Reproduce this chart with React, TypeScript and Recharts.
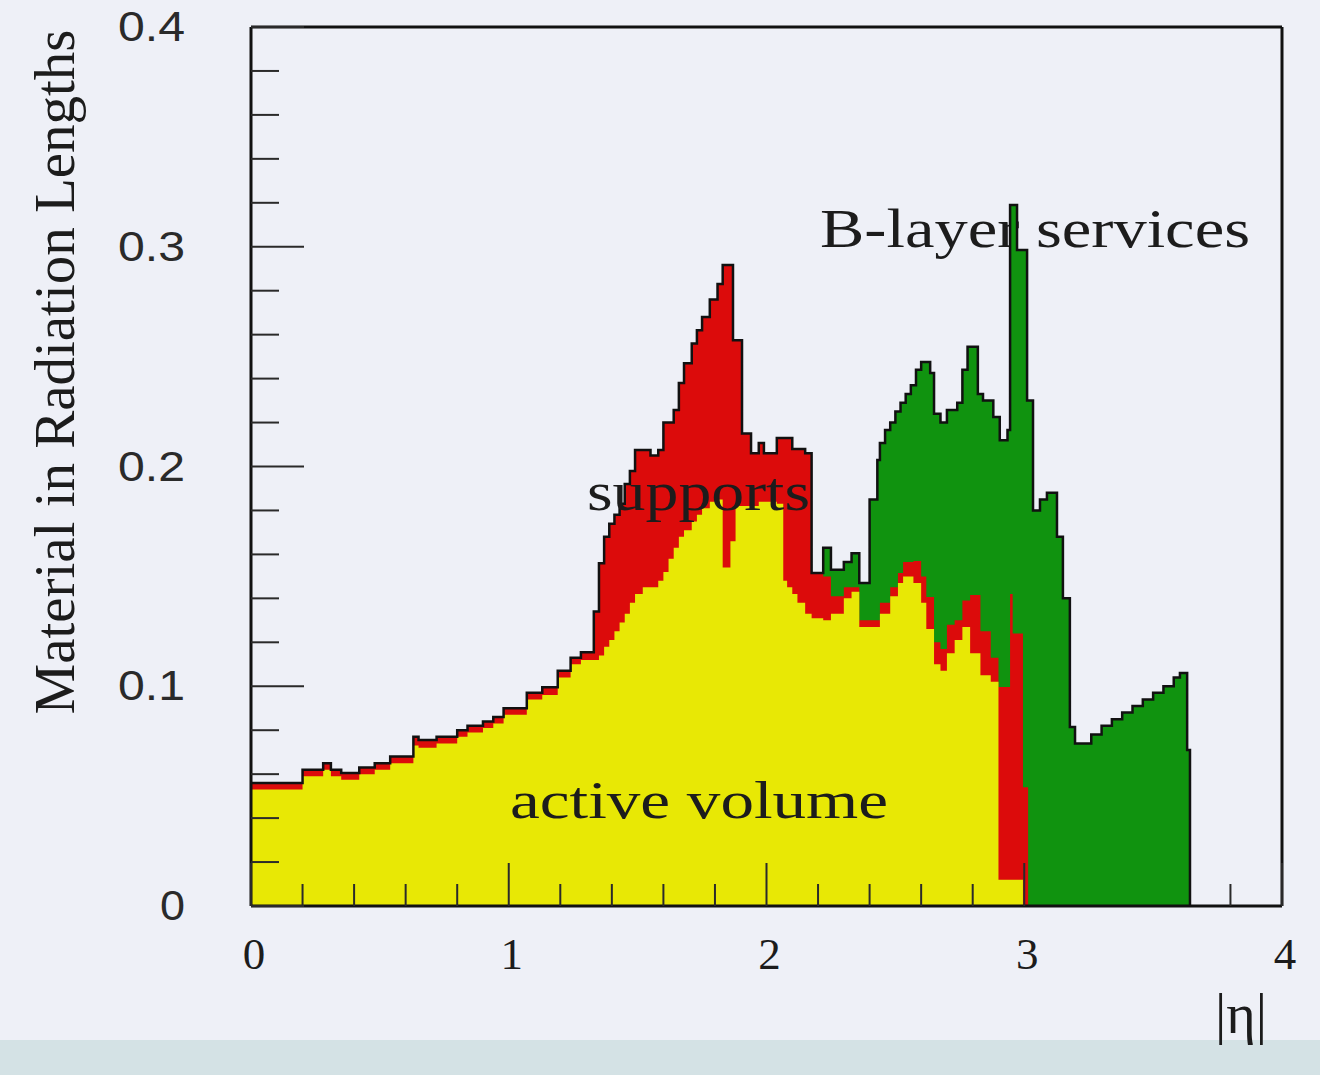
import { ComposedChart, Area, Line, XAxis, YAxis } from 'recharts';

// |eta| bin left edges; each value holds until the next edge
const eta = [
  0.0, 0.2, 0.28, 0.31, 0.35, 0.42, 0.48, 0.54, 0.63, 0.65,
  0.72, 0.8, 0.84, 0.9, 0.94, 0.98, 1.07, 1.13, 1.19, 1.24,
  1.28, 1.33, 1.35, 1.37, 1.39, 1.41, 1.43, 1.45, 1.47, 1.49,
  1.52, 1.55, 1.58, 1.6, 1.62, 1.64, 1.66, 1.68, 1.71, 1.73,
  1.75, 1.78, 1.81, 1.83, 1.86, 1.87, 1.88, 1.905, 1.94, 1.97,
  1.99, 2.04, 2.065, 2.08, 2.1, 2.12, 2.15, 2.175, 2.22, 2.25,
  2.3, 2.33, 2.36, 2.4, 2.43, 2.44, 2.46, 2.48, 2.5, 2.51,
  2.52, 2.53, 2.54, 2.56, 2.57, 2.58, 2.6, 2.62, 2.635, 2.65,
  2.675, 2.7, 2.73, 2.74, 2.76, 2.78, 2.79, 2.82, 2.83, 2.84,
  2.87, 2.88, 2.9, 2.905, 2.935, 2.945, 2.955, 2.972, 2.995, 3.011,
  3.015, 3.034, 3.061, 3.088, 3.127, 3.15, 3.177, 3.197, 3.26, 3.3,
  3.34, 3.38, 3.42, 3.46, 3.5, 3.54, 3.58, 3.604, 3.632, 3.643,
];

// cumulative material (X0): active volume only
const activeTop = [
  0.053, 0.059, 0.062, 0.059, 0.0575, 0.06, 0.062, 0.065, 0.073, 0.072,
  0.074, 0.077, 0.079, 0.081, 0.083, 0.087, 0.094, 0.096, 0.104, 0.11,
  0.112, 0.112, 0.114, 0.118, 0.121, 0.125, 0.129, 0.133, 0.138, 0.142,
  0.145, 0.145, 0.148, 0.152, 0.158, 0.163, 0.168, 0.171, 0.175, 0.178,
  0.181, 0.184, 0.185, 0.154, 0.166, 0.166, 0.182, 0.182, 0.182, 0.184,
  0.184, 0.183, 0.148, 0.145, 0.142, 0.138, 0.133, 0.131, 0.13, 0.133,
  0.14, 0.143, 0.127, 0.127, 0.127, 0.133, 0.133, 0.141, 0.141, 0.147,
  0.147, 0.15, 0.15, 0.15, 0.147, 0.147, 0.138, 0.126, 0.126, 0.11,
  0.107, 0.115, 0.121, 0.121, 0.127, 0.127, 0.115, 0.115, 0.105, 0.105,
  0.102, 0.102, 0.012, 0.012, 0.012, 0.012, 0.012, 0.012, 0, 0,
  0, 0, 0, 0, 0, 0, 0, 0, 0, 0,
  0, 0, 0, 0, 0, 0, 0, 0, 0, 0,
];

// cumulative: active volume + supports
const supportsTop = [
  0.056, 0.062, 0.065, 0.062, 0.0605, 0.063, 0.065, 0.068, 0.077, 0.0755,
  0.077, 0.08, 0.082, 0.084, 0.086, 0.09, 0.097, 0.0995, 0.107, 0.113,
  0.1155, 0.134, 0.156, 0.168, 0.174, 0.178, 0.183, 0.192, 0.198, 0.2075,
  0.2075, 0.205, 0.2075, 0.22, 0.22, 0.2257, 0.238, 0.247, 0.256, 0.262,
  0.268, 0.276, 0.283, 0.2917, 0.2917, 0.2575, 0.2575, 0.215, 0.206, 0.2107,
  0.206, 0.213, 0.213, 0.213, 0.208, 0.208, 0.206, 0.1515, 0.15, 0.141,
  0.145, 0.145, 0.13, 0.13, 0.13, 0.138, 0.138, 0.145, 0.145, 0.1515,
  0.1515, 0.1565, 0.1565, 0.1565, 0.157, 0.157, 0.15, 0.1406, 0.1406, 0.12,
  0.117, 0.128, 0.13, 0.13, 0.139, 0.139, 0.1415, 0.1415, 0.125, 0.125,
  0.113, 0.113, 0.0997, 0.0997, 0.0997, 0.142, 0.124, 0.124, 0.054, 0.054,
  0, 0, 0, 0, 0, 0, 0, 0, 0, 0,
  0, 0, 0, 0, 0, 0, 0, 0, 0, 0,
];

// cumulative: everything incl. B-layer services (no services below |eta| 2.2)
const servicesTop = [
  ...supportsTop.slice(0, 58),
  0.163, 0.153,
  0.1565, 0.1605, 0.147, 0.185, 0.203, 0.2107, 0.2166, 0.22, 0.225, 0.225,
  0.229, 0.229, 0.233, 0.237, 0.237, 0.244, 0.2476, 0.2476, 0.2425, 0.224,
  0.22, 0.2257, 0.2257, 0.229, 0.244, 0.2545, 0.2545, 0.233, 0.233, 0.23,
  0.23, 0.2225, 0.2225, 0.212, 0.2166, 0.319, 0.319, 0.2985, 0.2985, 0.23,
  0.23, 0.18, 0.185, 0.188, 0.168, 0.14, 0.0815, 0.074, 0.078, 0.082,
  0.085, 0.088, 0.091, 0.094, 0.097, 0.1, 0.104, 0.106, 0.071, 0,
];

const etaTicks = [0, 0.2, 0.4, 0.6, 0.8, 1, 1.2, 1.4, 1.6, 1.8, 2, 2.2, 2.4, 2.6, 2.8, 3, 3.8, 4];
const materialTicks = [
  0, 0.02, 0.04, 0.06, 0.08, 0.1, 0.12, 0.14, 0.16, 0.18, 0.2,
  0.22, 0.24, 0.26, 0.28, 0.3, 0.32, 0.34, 0.36, 0.38, 0.4,
];

const data = eta.map((x, i) => ({
  eta: x,
  active: activeTop[i],
  supports: supportsTop[i],
  services: servicesTop[i],
}));

const SERIF = '"Liberation Serif", "Times New Roman", serif';
const SANS = '"Liberation Sans", Arial, sans-serif';
const INK = '#1c1c1c';

function EtaTick({ x, y, payload }: any) {
  const v = payload.value;
  const major = Number.isInteger(v);
  return (
    <g>
      <line x1={x} x2={x} y1={y} y2={y - (major ? 43 : 22)} stroke="#2a2a2a" strokeWidth={2} />
      {major && (
        <text x={x + 3} y={y + 63} textAnchor="middle" fontFamily={SERIF} fontSize={45} fill={INK}>
          {v}
        </text>
      )}
    </g>
  );
}

function MaterialTick({ x, y, payload }: any) {
  const v = payload.value;
  const major = Math.abs(v * 10 - Math.round(v * 10)) < 1e-6;
  const label = v === 0 ? '0' : v.toFixed(1);
  return (
    <g>
      <line x1={x} x2={x + (major ? 53 : 28)} y1={y} y2={y} stroke="#2a2a2a" strokeWidth={2} />
      {major && (
        <text
          x={x - 66}
          y={y + 14}
          textAnchor="end"
          fontFamily={SANS}
          fontSize={42}
          fill="#2a2a2a"
          textLength={v === 0 ? 25 : 67}
          lengthAdjust="spacingAndGlyphs"
        >
          {label}
        </text>
      )}
    </g>
  );
}

export default function App() {
  const frame = { stroke: '#111', strokeWidth: 3 };
  return (
    <div style={{ position: 'absolute', left: 0, top: 0, width: 1320, height: 1075, background: '#eef0f7', overflow: 'hidden' }}>
      <div style={{ position: 'absolute', left: 0, top: 1040, width: 1320, height: 35, background: '#d4e2e5' }} />
      <svg width={1320} height={1075} style={{ position: 'absolute', left: 0, top: 0 }}>
        <text x={820} y={247} fontFamily={SERIF} fontSize={54} fill={INK} textLength={430} lengthAdjust="spacingAndGlyphs">
          B-layer services
        </text>
      </svg>
      <div style={{ position: 'absolute', left: 0, top: 0 }}>
        <ComposedChart width={1320} height={1075} data={data} margin={{ top: 26, right: 37, bottom: 168, left: 250 }}>
          <XAxis
            dataKey="eta"
            type="number"
            domain={[0, 4]}
            ticks={etaTicks}
            interval={0}
            height={1}
            tickSize={0}
            tickMargin={0}
            tickLine={false}
            tick={<EtaTick />}
            axisLine={frame}
          />
          <XAxis xAxisId="top" orientation="top" type="number" domain={[0, 4]} height={1} tick={false} tickLine={false} axisLine={frame} />
          <YAxis
            type="number"
            domain={[0, 0.4]}
            ticks={materialTicks}
            interval={0}
            width={1}
            tickSize={0}
            tickMargin={0}
            tickLine={false}
            tick={<MaterialTick />}
            axisLine={frame}
          />
          <YAxis yAxisId="right" orientation="right" type="number" domain={[0, 0.4]} width={1} tick={false} tickLine={false} axisLine={frame} />
          <Area type="stepAfter" dataKey="services" name="B-layer services" stroke="none" fill="#10930f" fillOpacity={1} isAnimationActive={false} />
          <Area type="stepAfter" dataKey="supports" name="supports" stroke="none" fill="#dc0b0b" fillOpacity={1} isAnimationActive={false} />
          <Area type="stepAfter" dataKey="active" name="active volume" stroke="none" fill="#e8e805" fillOpacity={1} isAnimationActive={false} />
          <Line type="stepAfter" dataKey="services" stroke="#111" strokeWidth={2.5} dot={false} activeDot={false} isAnimationActive={false} />
        </ComposedChart>
      </div>
      <svg width={1320} height={1075} style={{ position: 'absolute', left: 0, top: 0, pointerEvents: 'none' }}>
        <text x={587} y={510} fontFamily={SERIF} fontSize={54} fill={INK} textLength={223} lengthAdjust="spacingAndGlyphs">
          supports
        </text>
        <text x={510} y={818} fontFamily={SERIF} fontSize={52} fill={INK} textLength={378} lengthAdjust="spacingAndGlyphs">
          active volume
        </text>
        <text x={1215} y={1033} fontFamily={SERIF} fontSize={56} fill={INK} textLength={52} lengthAdjust="spacingAndGlyphs">
          |η|
        </text>
        <text
          transform="translate(74,372) rotate(-90)"
          textAnchor="middle"
          fontFamily={SERIF}
          fontSize={56}
          fill={INK}
          textLength={685}
          lengthAdjust="spacingAndGlyphs"
        >
          Material in Radiation Lengths
        </text>
      </svg>
    </div>
  );
}
